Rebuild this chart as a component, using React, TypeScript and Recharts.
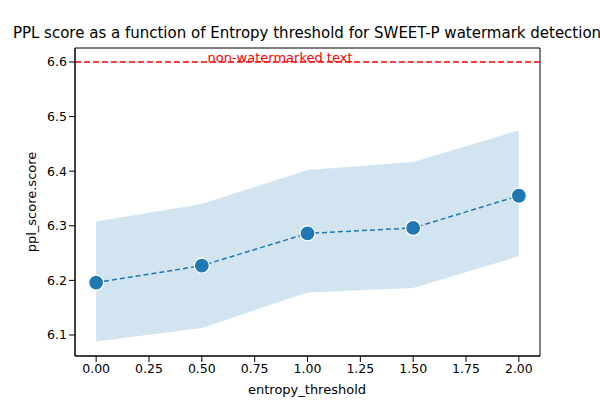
import {
  ComposedChart,
  Area,
  Line,
  XAxis,
  YAxis,
  ReferenceLine,
  ReferenceArea,
} from 'recharts';

const thresholds = [0, 0.5, 1.0, 1.5, 2.0];
const meanScore = [6.196, 6.227, 6.286, 6.296, 6.355];
const lowerScore = [6.088, 6.113, 6.178, 6.186, 6.244];
const upperScore = [6.308, 6.340, 6.402, 6.417, 6.475];
const xTicks = [0, 0.25, 0.5, 0.75, 1.0, 1.25, 1.5, 1.75, 2.0];
const yTicks = [6.1, 6.2, 6.3, 6.4, 6.5, 6.6];
const baselineScore = 6.6;
const xDomain: [number, number] = [-0.1, 2.1];
const yDomain: [number, number] = [6.0615, 6.6256];

const data = thresholds.map((t, i) => ({
  t,
  mean: meanScore[i],
  band: [lowerScore[i], upperScore[i]],
}));

const tickStyle = { fill: '#000', fontSize: 12.5 };

export default function App() {
  return (
    <div
      style={{
        position: 'absolute',
        left: 0,
        top: 0,
        width: 600,
        height: 400,
        overflow: 'hidden',
        background: '#fff',
        fontFamily: 'DejaVu Sans',
      }}
    >
      <div
        style={{
          position: 'absolute',
          top: 24,
          left: 307,
          transform: 'translateX(-50%)',
          whiteSpace: 'nowrap',
          fontSize: 15,
        }}
      >
        PPL score as a function of Entropy threshold for SWEET-P watermark detection
      </div>
      <div style={{ position: 'absolute', top: 382, left: 307, transform: 'translateX(-50%)', fontSize: 13 }}>
        entropy_threshold
      </div>
      <div
        style={{
          position: 'absolute',
          top: 202,
          left: 31,
          transform: 'translate(-50%, -50%) rotate(-90deg)',
          whiteSpace: 'nowrap',
          fontSize: 13,
        }}
      >
        ppl_score.score
      </div>
      <ComposedChart
        width={600}
        height={400}
        data={data}
        margin={{ top: 48, right: 60, bottom: 14, left: 30 }}
      >
        <XAxis
          dataKey="t"
          type="number"
          domain={xDomain}
          ticks={xTicks}
          tickFormatter={(v) => v.toFixed(2)}
          tick={tickStyle}
          stroke="#000"
          height={30}
        />
        <YAxis
          type="number"
          domain={yDomain}
          ticks={yTicks}
          tickFormatter={(v) => v.toFixed(1)}
          tick={tickStyle}
          stroke="#000"
          width={45}
        />
        <Area
          dataKey="band"
          stroke="none"
          fill="#1f77b4"
          fillOpacity={0.2}
          isAnimationActive={false}
        />
        <Line
          dataKey="mean"
          stroke="#1f77b4"
          strokeWidth={1.5}
          strokeDasharray="5 3"
          dot={(p: any) => (
            <circle key={p.index} cx={p.cx} cy={p.cy} r={7.5} fill="#1f77b4" stroke="#fff" strokeWidth={1.2} />
          )}
          isAnimationActive={false}
        />
        <ReferenceLine
          y={baselineScore}
          stroke="red"
          strokeWidth={1.5}
          strokeDasharray="6 3"
          label={(props: any) => {
            const vb = props.viewBox;
            return (
              <text x={vb.x + 205} y={vb.y + 0.5} textAnchor="middle" fill="red" fontSize={13}>
                non-watermarked text
              </text>
            );
          }}
        />
        <ReferenceArea
          x1={xDomain[0]}
          x2={xDomain[1]}
          y1={yDomain[0]}
          y2={yDomain[1]}
          fill="none"
          stroke="#000"
          strokeWidth={1}
          fillOpacity={0}
        />
      </ComposedChart>
    </div>
  );
}
